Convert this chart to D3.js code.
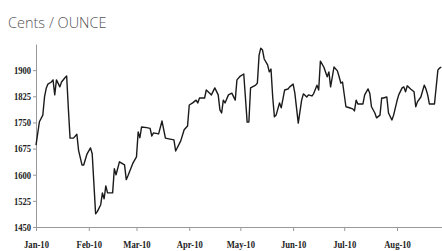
<!DOCTYPE html>
<html>
<head>
<meta charset="utf-8">
<script src="https://cdn.jsdelivr.net/npm/d3@7"></script>
<style>
  body { margin: 0; background: #fff; }
  svg { display: block; }
</style>
</head>
<body>
<script>
// price series (cents / ounce)
var dates = [
  "2010-01-01","2010-01-03","2010-01-05","2010-01-06","2010-01-07","2010-01-08","2010-01-10","2010-01-11",
  "2010-01-12","2010-01-13","2010-01-15","2010-01-16","2010-01-18","2010-01-19","2010-01-20","2010-01-21",
  "2010-01-23","2010-01-25","2010-01-26","2010-01-28","2010-01-29","2010-01-31",
  "2010-02-02","2010-02-03","2010-02-05","2010-02-06","2010-02-08","2010-02-09","2010-02-10","2010-02-11",
  "2010-02-12","2010-02-15","2010-02-16","2010-02-17","2010-02-19","2010-02-21","2010-02-22","2010-02-23",
  "2010-02-24","2010-02-27",
  "2010-03-01","2010-03-02","2010-03-03","2010-03-04","2010-03-07","2010-03-09","2010-03-10","2010-03-11",
  "2010-03-14","2010-03-16","2010-03-18","2010-03-20","2010-03-23","2010-03-24","2010-03-27","2010-03-29",
  "2010-03-31",
  "2010-04-01","2010-04-03","2010-04-05","2010-04-06","2010-04-07","2010-04-10","2010-04-11","2010-04-13",
  "2010-04-14","2010-04-16","2010-04-18","2010-04-19","2010-04-20","2010-04-21","2010-04-22","2010-04-24",
  "2010-04-26","2010-04-28","2010-04-29",
  "2010-05-01","2010-05-03","2010-05-05","2010-05-06","2010-05-07","2010-05-10","2010-05-11","2010-05-12",
  "2010-05-13","2010-05-14","2010-05-15","2010-05-17","2010-05-18","2010-05-19","2010-05-20","2010-05-21",
  "2010-05-22","2010-05-24","2010-05-25","2010-05-27","2010-05-29","2010-05-30",
  "2010-06-01","2010-06-02","2010-06-04","2010-06-06","2010-06-07","2010-06-09","2010-06-10","2010-06-12",
  "2010-06-13","2010-06-15","2010-06-16","2010-06-17","2010-06-19","2010-06-21","2010-06-22","2010-06-23",
  "2010-06-25","2010-06-27","2010-06-28","2010-06-29","2010-06-30",
  "2010-07-02","2010-07-04","2010-07-06","2010-07-07","2010-07-08","2010-07-09","2010-07-12","2010-07-13",
  "2010-07-15","2010-07-16","2010-07-17","2010-07-19","2010-07-20","2010-07-22","2010-07-23","2010-07-24",
  "2010-07-26","2010-07-27","2010-07-29","2010-07-30",
  "2010-08-01","2010-08-02","2010-08-04","2010-08-05","2010-08-06","2010-08-07","2010-08-09","2010-08-11",
  "2010-08-12","2010-08-13","2010-08-15","2010-08-17","2010-08-18","2010-08-19","2010-08-20","2010-08-23",
  "2010-08-25","2010-08-26","2010-08-27"
]
var prices = [
  1685,1752,1771,1823,1848,1860,1866,1872,
  1829,1872,1852,1866,1878,1883,1790,1705,
  1705,1716,1670,1628,1628,1660,
  1677,1660,1488,1494,1514,1548,1531,1568,
  1548,1548,1617,1600,1637,1631,1628,1586,
  1597,1634,
  1651,1723,1706,1737,1735,1733,1711,1720,
  1717,1754,1705,1703,1700,1668,1697,1729,
  1740,
  1800,1806,1814,1806,1820,1820,1843,1834,
  1829,1849,1829,1786,1777,1814,1806,1829,
  1834,1814,1872,
  1883,1889,1751,1751,1849,1857,1863,1943,
  1963,1958,1932,1915,1895,1903,1823,1766,
  1771,1806,1792,1843,1846,1852,
  1860,1834,1748,1814,1832,1823,1829,1826,
  1832,1857,1843,1926,1909,1881,1895,1852,
  1909,1898,1881,1863,1866,
  1795,1792,1789,1783,1814,1803,1803,1829,
  1846,1834,1795,1777,1763,1771,1820,1820,
  1823,1777,1757,1771,
  1812,1829,1849,1852,1838,1855,1846,1838,
  1795,1809,1823,1857,1846,1829,1803,1803,
  1900,1906,1909
]
var yTicks = [1450, 1525, 1600, 1675, 1750, 1825, 1900]
var xTickLabels = ["Jan-10","Feb-10","Mar-10","Apr-10","May-10","Jun-10","Jul-10","Aug-10"]

var svgWidth = 442, svgHeight = 251
var margin = {top: 44, right: 0, bottom: 24, left: 36}
var width = svgWidth - margin.left - margin.right
var height = svgHeight - margin.top - margin.bottom

var parse = d3.timeParse("%Y-%m-%d")
var data = dates.map(function(d, i) { return {date: parse(d), price: prices[i]} })

var svg = d3.select("body").append("svg")
    .attr("width", svgWidth)
    .attr("height", svgHeight)

// title
svg.append("text")
    .attr("x", 8).attr("y", 28)
    .attr("font-family", "Open Sans, sans-serif")
    .attr("font-size", "14.5px")
    .attr("font-weight", 300)
    .attr("fill", "#555")
    .text("Cents / OUNCE")

var g = svg.append("g").attr("transform", "translate(" + margin.left + "," + margin.top + ")")

var xScale = d3.scaleTime()
    .domain([new Date(2010, 0, 1), new Date(2010, 7, 27, 10)])
    .range([0, width])
var yScale = d3.scaleLinear().domain([1450, 1975]).range([height, 0])

// x axis
var monthTicks = xTickLabels.map(function(d, i) { return new Date(2010, i, 1) })
var xAxis = g.append("g").attr("transform", "translate(0," + height + ")")
    .call(d3.axisBottom(xScale).tickValues(monthTicks)
        .tickFormat(function(d, i) { return xTickLabels[i] })
        .tickSize(4).tickSizeOuter(0).tickPadding(10))
xAxis.selectAll("text")
    .attr("font-family", "Liberation Serif, serif")
    .attr("font-weight", "bold")
    .attr("font-size", "10.5px")
    .attr("fill", "#222")
    .attr("transform", "scale(0.82,1)")

// y axis
var yAxis = g.append("g")
    .call(d3.axisLeft(yScale).tickValues(yTicks).tickFormat(d3.format("d"))
        .tickSize(3).tickSizeOuter(0).tickPadding(3))
yAxis.selectAll("text")
    .attr("font-family", "Liberation Serif, serif")
    .attr("font-weight", "bold")
    .attr("font-size", "10.5px")
    .attr("fill", "#222")
    .attr("transform", "scale(0.82,1)")

g.selectAll(".domain, .tick line").attr("stroke", "#999")

// price line
var line = d3.line()
    .x(function(d) { return xScale(d.date) })
    .y(function(d) { return yScale(d.price) })

g.append("path")
    .datum(data)
    .attr("fill", "none")
    .attr("stroke", "#1a1a1a")
    .attr("stroke-width", 1.4)
    .attr("stroke-linejoin", "round")
    .attr("d", line)
</script>
</body>
</html>
